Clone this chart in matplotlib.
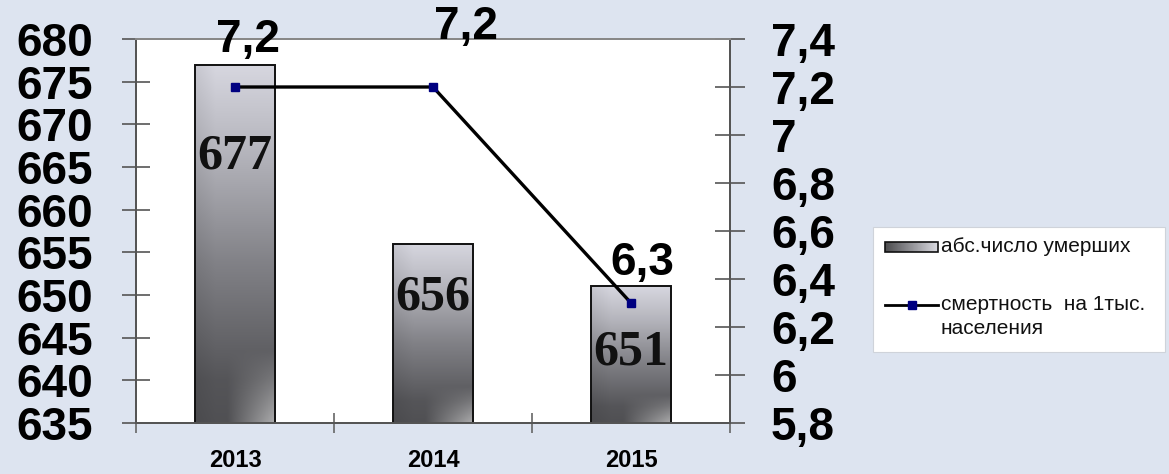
import numpy as np
import matplotlib
matplotlib.use("Agg")
import matplotlib.pyplot as plt
from matplotlib.patches import Rectangle
from matplotlib.lines import Line2D
from matplotlib.ticker import FixedLocator, FuncFormatter

# ---- data ----
years = ["2013", "2014", "2015"]
deaths = [677, 656, 651]
rate = [7.2, 7.2, 6.3]
rate_labels = ["7,2", "7,2", "6,3"]
legend_labels = ["абс.число умерших", "смертность  на 1тыс.\nнаселения"]

# ---- styling ----
BG = "#dde4f0"
SANS = ["Liberation Sans", "DejaVu Sans"]
SERIF = ["Liberation Serif", "DejaVu Serif"]
plt.rcParams["font.family"] = SANS

W, H = 1169, 474
fig = plt.figure(figsize=(W / 100, H / 100), dpi=100, facecolor=BG)
L, R, T, B = 136, 730, 39, 423
ax = fig.add_axes([L / W, 1 - B / H, (R - L) / W, (B - T) / H])
ax.set_facecolor("white")
ax2 = ax.twinx()

x = np.arange(len(years))

# gradient image for bars
def bar_gradient(nrows=200, ncols=60):
    t = np.linspace(0, 1, nrows)[:, None] * np.ones((1, ncols))
    u = np.ones((nrows, 1)) * np.linspace(0, 1, ncols)[None, :]
    stops_t = [0.0, 0.25, 0.55, 0.88, 1.0]
    stops_v = [0.86, 0.72, 0.52, 0.34, 0.32]
    v = np.interp(t, stops_t, stops_v)
    img = np.stack([v * 0.98, v * 0.98, v * 1.02], axis=-1)
    hl = np.clip((t - 0.8) / 0.2, 0, 1) * np.clip((u - 0.4) / 0.6, 0, 1)
    img = img * (1 - 0.6 * hl[..., None]) + 0.92 * 0.6 * hl[..., None]
    img = img * (0.93 + 0.07 * np.clip(u * 4, 0, 1))[..., None]
    return np.clip(img, 0, 1)

grad = bar_gradient()
ymin, ymax = 635, 680
bars = ax.bar(x, [d - ymin for d in deaths], bottom=ymin, width=0.405,
              facecolor="none", edgecolor="#111111", linewidth=1.4, zorder=3)
for b in bars:
    x0, y0 = b.get_x(), b.get_y()
    ax.imshow(grad, extent=[x0, x0 + b.get_width(), y0, y0 + b.get_height()],
              aspect="auto", origin="upper", zorder=2, interpolation="bilinear")

# bar value labels
bar_label_offsets = [-92, -54, -66]
for xi, d, off in zip(x, deaths, bar_label_offsets):
    ax.annotate(str(d), xy=(xi, d), xytext=(0, off), textcoords="offset pixels",
                ha="center", va="center", fontsize=36, fontweight="bold",
                family=SERIF, color="#111111", zorder=5)

ax.set_xlim(-0.5, len(years) - 0.5)
ax.set_ylim(ymin, ymax)
ax.set_yticks(np.arange(635, 681, 5))
ax.tick_params(axis="y", direction="inout", length=20, width=1.2, color="#555555",
               pad=21, labelsize=33)
for lab in ax.get_yticklabels():
    lab.set_fontweight("bold")
ax.xaxis.set_major_locator(FixedLocator([-0.5, 0.5, 1.5, 2.5]))
ax.xaxis.set_major_formatter(FuncFormatter(lambda v, p: ""))
ax.xaxis.set_minor_locator(FixedLocator(list(x)))
ax.set_xticks(x, years, minor=True)
ax.tick_params(axis="x", which="major", direction="inout", length=14, width=1.2,
               color="#666666")
ax.tick_params(axis="x", which="minor", length=0, pad=19, labelsize=17)
for lab in ax.get_xticklabels(minor=True):
    lab.set_fontweight("bold")

for a in (ax, ax2):
    for s in ["left", "right", "bottom", "top"]:
        a.spines[s].set_color("#555555")
        a.spines[s].set_linewidth(1.4)
    a.spines["top"].set_color("#888888")

# line on right axis
ax2.plot(x, rate, color="black", linewidth=2.4, marker="s", markersize=6,
         markerfacecolor="#000080", markeredgecolor="#000080", zorder=4)
ax2.set_ylim(5.8, 7.4)
ax2.set_yticks(np.round(np.arange(5.8, 7.41, 0.2), 1))
ax2.yaxis.set_major_formatter(FuncFormatter(
    lambda v, p: ("%g" % round(v, 1)).replace(".", ",")))
ax2.tick_params(axis="y", direction="inout", length=21, width=1.2, color="#555555",
                pad=19, labelsize=33)
for lab in ax2.get_yticklabels():
    lab.set_fontweight("bold")

rate_label_offsets = [(13, 47), (33, 60), (11, 40)]
for xi, r, lab, off in zip(x, rate, rate_labels, rate_label_offsets):
    ax2.annotate(lab, xy=(xi, r), xytext=off, textcoords="offset pixels",
                 ha="center", va="center", fontsize=33, fontweight="bold",
                 color="black", annotation_clip=False, zorder=6)

# ---- legend (drawn in figure pixel space) ----
lg = fig.add_axes([0, 0, 1, 1], facecolor="none")
lg.set_xlim(0, W)
lg.set_ylim(H, 0)
lg.axis("off")
lg.add_patch(Rectangle((873, 227), 292, 125, facecolor="white", edgecolor="#cfd3da",
                       linewidth=0.8))
sw = np.linspace(0.3, 0.85, 40)[None, :] * np.ones((6, 1))
sw_img = np.stack([sw, sw, sw * 1.03], axis=-1).clip(0, 1)
lg.imshow(sw_img, extent=[885, 938, 252, 242], aspect="auto", zorder=3)
lg.add_patch(Rectangle((885, 242), 53, 10, facecolor="none", edgecolor="#111111",
                       linewidth=1.2, zorder=4))
lg.add_line(Line2D([885, 938], [305, 305], color="black", linewidth=2.0, zorder=4))
lg.add_line(Line2D([911.5], [305], marker="s", markersize=6, color="#000080",
                   linestyle="none", zorder=5))
lg.text(941, 247, legend_labels[0], ha="left", va="center", fontsize=15, color="#111111")
lines2 = legend_labels[1].split("\n")
lg.text(941, 305, lines2[0], ha="left", va="center", fontsize=15, color="#111111")
lg.text(941, 329, lines2[1], ha="left", va="center", fontsize=15, color="#111111")
lg.set_xlim(0, W)
lg.set_ylim(H, 0)

fig.savefig("out.png", dpi=100, facecolor=BG)
